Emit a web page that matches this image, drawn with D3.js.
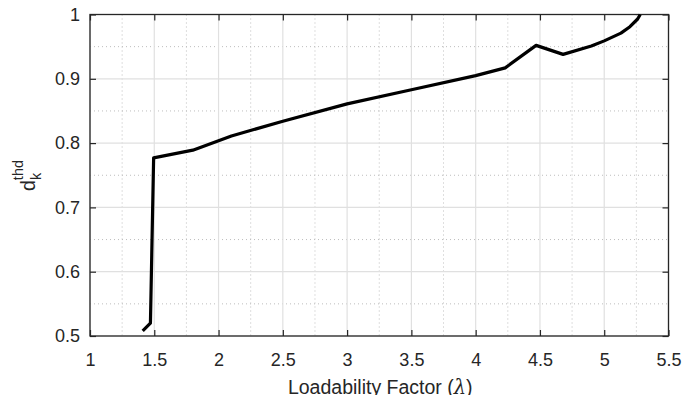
<!DOCTYPE html>
<html>
<head>
<meta charset="utf-8">
<script src="https://cdn.jsdelivr.net/npm/d3@7"></script>
<style>
  body { margin: 0; background: #fff; }
  text { font-family: "Liberation Sans", Arial, sans-serif; }
</style>
</head>
<body>
<div id="plot"></div>
<script>
// curve of d_k^thd versus loadability factor
const lambda = [1.41, 1.47, 1.495, 1.8, 2.1, 2.5, 3.0, 3.5, 4.0, 4.23, 4.47, 4.68, 4.9, 5.0, 5.13, 5.2, 5.26, 5.28];
const dthd   = [0.508, 0.52, 0.777, 0.789, 0.811, 0.834, 0.861, 0.883, 0.905, 0.917, 0.952, 0.938, 0.951, 0.959, 0.971, 0.981, 0.993, 1.0];
const xTicks = [1, 1.5, 2, 2.5, 3, 3.5, 4, 4.5, 5, 5.5];
const yTicks = [0.5, 0.6, 0.7, 0.8, 0.9, 1];

const width = 682, height = 395;
const margin = { top: 14.5, right: 13.5, bottom: 59, left: 90 };
const w = width - margin.left - margin.right;
const h = height - margin.top - margin.bottom;

const svg = d3.select("#plot").append("svg")
  .attr("width", width)
  .attr("height", height);

const g = svg.append("g")
  .attr("transform", "translate(" + margin.left + "," + margin.top + ")");

const x = d3.scaleLinear().domain([1, 5.5]).range([0, w]);
const y = d3.scaleLinear().domain([0.5, 1]).range([h, 0]);

// minor grid (dotted)
const xMinor = d3.range(1.25, 5.5, 0.5);
const yMinor = d3.range(0.55, 1, 0.1);
g.selectAll(".xminor").data(xMinor).enter().append("line")
  .attr("x1", d => x(d)).attr("x2", d => x(d))
  .attr("y1", 0).attr("y2", h)
  .attr("stroke", "#bdbdbd").attr("stroke-width", 1)
  .attr("stroke-dasharray", "1,3");
g.selectAll(".yminor").data(yMinor).enter().append("line")
  .attr("x1", 0).attr("x2", w)
  .attr("y1", d => y(d)).attr("y2", d => y(d))
  .attr("stroke", "#bdbdbd").attr("stroke-width", 1)
  .attr("stroke-dasharray", "1,3");

// major grid
g.selectAll(".xmajor").data(xTicks).enter().append("line")
  .attr("x1", d => x(d)).attr("x2", d => x(d))
  .attr("y1", 0).attr("y2", h)
  .attr("stroke", "#e0e0e0").attr("stroke-width", 1.2);
g.selectAll(".ymajor").data(yTicks).enter().append("line")
  .attr("x1", 0).attr("x2", w)
  .attr("y1", d => y(d)).attr("y2", d => y(d))
  .attr("stroke", "#e0e0e0").attr("stroke-width", 1.2);

// axes
const axisColor = "#262626";
function styleAxis(sel) {
  sel.select(".domain").remove();
  sel.selectAll(".tick line").attr("stroke", axisColor).attr("stroke-width", 1.2);
  sel.selectAll(".tick text").attr("fill", "#262626")
    .style("font-size", "18px")
    .style("font-family", "'Liberation Sans', Arial, sans-serif");
}

g.append("g")
  .attr("transform", "translate(0," + h + ")")
  .call(d3.axisBottom(x).tickValues(xTicks).tickSizeInner(-6).tickSizeOuter(0).tickPadding(17.5).tickFormat(d3.format("")))
  .call(styleAxis);
g.append("g")
  .call(d3.axisTop(x).tickValues(xTicks).tickSizeInner(-6).tickSizeOuter(0).tickFormat(""))
  .call(styleAxis);
g.append("g")
  .call(d3.axisLeft(y).tickValues(yTicks).tickSizeInner(-6).tickSizeOuter(0).tickPadding(10).tickFormat(d3.format("")))
  .call(styleAxis);
g.append("g")
  .attr("transform", "translate(" + w + ",0)")
  .call(d3.axisRight(y).tickValues(yTicks).tickSizeInner(-6).tickSizeOuter(0).tickFormat(""))
  .call(styleAxis);

// box
g.append("rect")
  .attr("x", 0).attr("y", 0).attr("width", w).attr("height", h)
  .attr("fill", "none").attr("stroke", axisColor).attr("stroke-width", 1.3);

// data line
const line = d3.line()
  .x((d, i) => x(lambda[i]))
  .y(d => y(d));
g.append("path")
  .datum(dthd)
  .attr("d", line)
  .attr("fill", "none")
  .attr("stroke", "#000")
  .attr("stroke-width", 3.2)
  .attr("stroke-linejoin", "round");

// x label
const xl = svg.append("text")
  .attr("x", margin.left + w / 2 + 1)
  .attr("y", 394)
  .attr("text-anchor", "middle")
  .attr("fill", "#262626")
  .style("font-size", "19.5px");
xl.append("tspan").text("Loadability Factor (");
xl.append("tspan").attr("font-family", "'DejaVu Serif', serif").attr("font-style", "italic").text("λ");
xl.append("tspan").text(")");

// y label
const yl = svg.append("text")
  .attr("transform", "translate(35,191) rotate(-90)")
  .attr("text-anchor", "start")
  .attr("fill", "#262626")
  .style("font-size", "19.5px");
yl.append("tspan").text("d");
yl.append("tspan").attr("dy", -12).style("font-size", "14.5px").text("thd");
yl.append("tspan").attr("dx", -20).attr("dy", 18).style("font-size", "14.5px").text("k");
</script>
</body>
</html>
